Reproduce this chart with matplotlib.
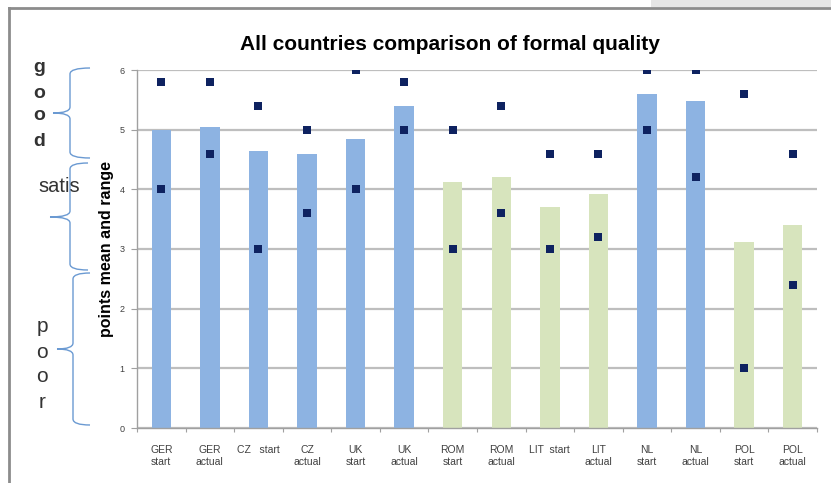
import matplotlib
matplotlib.use("Agg")
import matplotlib.pyplot as plt
from matplotlib.path import Path
from matplotlib.patches import PathPatch, Rectangle
import numpy as np

plt.rcParams['font.family'] = ['Liberation Sans', 'DejaVu Sans']

# Data: mean score per survey and the range (min / max) of points
categories = ["GER\nstart", "GER\nactual", "CZ   start", "CZ\nactual", "UK\nstart", "UK\nactual",
              "ROM\nstart", "ROM\nactual", "LIT  start", "LIT\nactual", "NL\nstart", "NL\nactual",
              "POL\nstart", "POL\nactual"]
countries = ["GER", "GER", "CZ", "CZ", "UK", "UK", "ROM", "ROM", "LIT", "LIT", "NL", "NL", "POL", "POL"]
mean_points = [5.0, 5.05, 4.64, 4.60, 4.85, 5.40, 4.12, 4.20, 3.71, 3.92, 5.59, 5.48, 3.11, 3.41]
max_points = [5.8, 5.8, 5.4, 5.0, 6.0, 5.8, 5.0, 5.4, 4.6, 4.6, 6.0, 6.0, 5.6, 4.6]
min_points = [4.0, 4.6, 3.0, 3.6, 4.0, 5.0, 3.0, 3.6, 3.0, 3.2, 5.0, 4.2, 1.0, 2.4]
y_ticks = [0, 1, 2, 3, 4, 5, 6]

new_members = {"ROM", "LIT", "POL"}
bar_colors = ['#D7E4BD' if c in new_members else '#8DB3E2' for c in countries]

W, H = 831, 483
fig = plt.figure(figsize=(W / 100, H / 100), dpi=100)
fig.patch.set_facecolor('white')

left, right, top, bottom = 137, 817, 70, 428
ax = fig.add_axes([left / W, (H - bottom) / H, (right - left) / W, (bottom - top) / H])

x = np.arange(len(categories))
ax.bar(x, mean_points, width=0.4, color=bar_colors, zorder=2)
ax.scatter(x, max_points, marker='s', s=40, color='#0E2260', zorder=3, linewidths=0)
ax.scatter(x, min_points, marker='s', s=40, color='#0E2260', zorder=3, linewidths=0)

ax.set_xlim(-0.5, len(categories) - 0.5)
ax.set_ylim(0, 6)
ax.set_yticks(y_ticks)
ax.set_yticklabels([str(v) for v in y_ticks], fontsize=6.5, color='#404040')
ax.yaxis.grid(True, color='#BEBEBE', linewidth=1.6, zorder=0)
ax.set_axisbelow(True)

ax.set_xticks(x)
ax.set_xticklabels(categories, fontsize=7.5, color='#404040', linespacing=1.35)
ax.tick_params(axis='x', length=0, pad=12)
ax.set_xticks(np.arange(len(categories) + 1) - 0.5, minor=True)
ax.tick_params(axis='x', which='minor', length=3, color='#A0A0A0', width=0.8)
ax.tick_params(axis='y', length=4, color='#A0A0A0', width=0.8, pad=5)

for s in ['top', 'right']:
    ax.spines[s].set_visible(False)
for s in ['left', 'bottom']:
    ax.spines[s].set_color('#A0A0A0')
    ax.spines[s].set_linewidth(1.0)

ax.set_ylabel("points mean and range", fontsize=11.5, fontweight='bold', color='black', labelpad=4)
fig.text(450 / W, 1 - 45 / H, "All countries comparison of formal quality",
         ha='center', va='center', fontsize=15, fontweight='bold', color='black')

# Overlay in pixel coordinates for the frame and the rating braces
ov = fig.add_axes([0, 0, 1, 1], facecolor='none')
ov.set_xlim(0, W)
ov.set_ylim(H, 0)
ov.axis('off')

ov.add_patch(Rectangle((651, 0), W - 651, 7, color='#E6E6E6', lw=0))
ov.plot([9, W], [8, 8], color='#8C8C8C', lw=2)
ov.plot([9, 9], [8, H], color='#8C8C8C', lw=2)


def brace(x_end, x_spine, x_tip, y_top, y_mid, y_bot, r=6):
    verts = [(x_end, y_top), (x_spine, y_top), (x_spine, y_top + r),
             (x_spine, y_mid - r), (x_spine, y_mid), (x_tip, y_mid),
             (x_spine, y_mid), (x_spine, y_mid + r),
             (x_spine, y_bot - r), (x_spine, y_bot), (x_end, y_bot)]
    codes = [Path.MOVETO, Path.CURVE3, Path.CURVE3,
             Path.LINETO, Path.CURVE3, Path.CURVE3,
             Path.CURVE3, Path.CURVE3,
             Path.LINETO, Path.CURVE3, Path.CURVE3]
    ov.add_patch(PathPatch(Path(verts, codes), fill=False, edgecolor='#6B9AD2', lw=1.0))


brace(90, 70, 53, 68, 113, 158)
brace(88, 70, 50, 163, 217, 270)
brace(90, 73, 57, 273, 349, 425)

for ch, yy in zip("good", [68, 93, 116, 141]):
    ov.text(39, yy, ch, ha='center', va='center', fontsize=14, color='#333333', fontweight='bold')
ov.text(59, 187, "satis", ha='center', va='center', fontsize=14.5, color='#333333')
for ch, yy in zip("poor", [326, 352, 377, 402]):
    ov.text(42, yy, ch, ha='center', va='center', fontsize=15, color='#333333')

fig.savefig("out.png", dpi=100)
